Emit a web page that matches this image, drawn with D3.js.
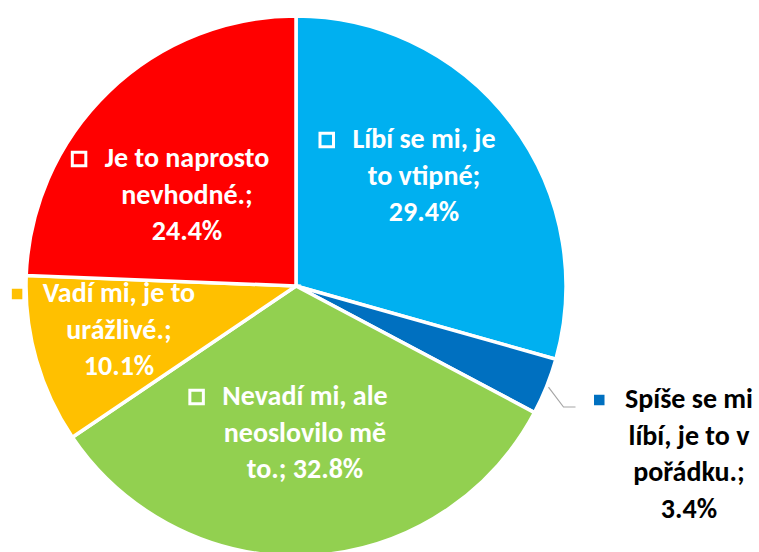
<!DOCTYPE html>
<html>
<head>
<meta charset="utf-8">
<script src="https://cdn.jsdelivr.net/npm/d3@7"></script>
<style>
  html, body { margin: 0; padding: 0; background: #fff; }
  svg { display: block; }
  text { font-family: Carlito, Calibri, Lato, sans-serif; font-weight: bold; }
</style>
</head>
<body>
<svg id="chart" width="759" height="552"></svg>
<script>
// Survey answers, clockwise from 12 o'clock
const categories = [
  "Líbí se mi, je to vtipné",
  "Spíše se mi líbí, je to v pořádku.",
  "Nevadí mi, ale neoslovilo mě to.",
  "Vadí mi, je to urážlivé.",
  "Je to naprosto nevhodné."
];
const values = [29.4, 3.4, 32.8, 10.1, 24.4];
const colors = ["#00B0F0", "#0070C0", "#92D050", "#FFC000", "#FF0000"];

// Label placement: centre x, first baseline, words per line, text colour
const labelLayout = [
  { x: 424, y: 148, words: [4, 2, 1], fill: "#fff" },
  { x: 689, y: 408, words: [3, 4, 1, 1], fill: "#000", outside: true },
  { x: 305, y: 405, words: [3, 2, 2], fill: "#fff" },
  { x: 119, y: 302, words: [4, 1, 1], fill: "#fff" },
  { x: 187, y: 167, words: [3, 1, 1], fill: "#fff" }
];

const cx = 296, cy = 286, radius = 270;
const fontSize = 28, lineHeight = 36.6, keySize = 13.5, keyGap = 19;

const svg = d3.select("#chart");
const g = svg.append("g").attr("transform", `translate(${cx},${cy})`);

const pie = d3.pie().sort(null).value(d => d);
const arcs = pie(values);
const arc = d3.arc().innerRadius(0).outerRadius(radius);

g.selectAll("path.slice")
  .data(arcs)
  .join("path")
  .attr("class", "slice")
  .attr("d", arc)
  .attr("fill", (d, i) => colors[i])
  .attr("stroke", "#fff")
  .attr("stroke-width", 3.5)
  .attr("stroke-linejoin", "miter");

// Data labels
arcs.forEach((a, i) => {
  const L = labelLayout[i];
  const words = (categories[i] + "; " + values[i].toFixed(1) + "%").split(" ");
  const lines = [];
  let k = 0;
  L.words.forEach(n => { lines.push(words.slice(k, k + n).join(" ")); k += n; });

  const lab = svg.append("g");
  const texts = lab.selectAll("text")
    .data(lines)
    .join("text")
    .attr("x", L.x)
    .attr("y", (d, j) => L.y + j * lineHeight)
    .attr("text-anchor", "middle")
    .attr("font-size", fontSize)
    .attr("fill", L.fill)
    .text(d => d);

  const w0 = texts.node().getComputedTextLength();
  const keyX = L.x - w0 / 2 - keyGap - keySize;
  lab.insert("rect", "text")
    .attr("x", keyX)
    .attr("y", L.y - 8 - keySize / 2)
    .attr("width", keySize)
    .attr("height", keySize)
    .attr("fill", colors[i])
    .attr("stroke", "#fff")
    .attr("stroke-width", 3);

  if (L.outside) {
    // leader line from the slice edge to the label key
    const mid = (a.startAngle + a.endAngle) / 2;
    const r0 = radius + 2;
    const p0 = [cx + r0 * Math.sin(mid), cy - r0 * Math.cos(mid)];
    const yEnd = L.y - 1;
    const xEnd = keyX - 17;
    svg.insert("path", "g")
      .attr("d", d3.line()([p0, [xEnd - 12, yEnd], [xEnd, yEnd]]))
      .attr("fill", "none")
      .attr("stroke", "#A6A6A6")
      .attr("stroke-width", 1.2);
  }
});
</script>
</body>
</html>
